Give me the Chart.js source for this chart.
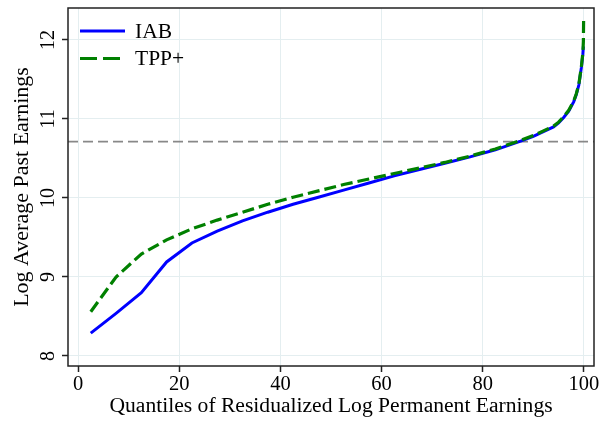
<!DOCTYPE html>
<html>
<head>
<meta charset="utf-8">
<script src="https://cdn.jsdelivr.net/npm/chart.js@4/dist/chart.umd.min.js"></script>
<style>
  html, body { margin: 0; padding: 0; background: #fff; }
  #wrap { width: 610px; height: 421px; }
</style>
</head>
<body>
<div id="wrap"><canvas id="c" width="610" height="421"></canvas></div>
<script>
// ---- data ----
const quantiles = [2.5, 7.5, 12.5, 17.5, 22.5, 27.5, 32.5, 37.5, 42.5, 47.5, 52.5, 57.5, 62.5, 67.5, 72.5, 77.5, 82.5, 87.5, 90, 92, 94, 95, 96, 97, 98, 98.5, 99, 99.5, 99.8, 99.9, 99.95];
const iab = [8.29, 8.54, 8.80, 9.19, 9.43, 9.58, 9.71, 9.82, 9.92, 10.01, 10.10, 10.19, 10.28, 10.36, 10.44, 10.52, 10.61, 10.72, 10.78, 10.84, 10.90, 10.95, 11.02, 11.10, 11.22, 11.31, 11.43, 11.65, 11.82, 11.92, null];
const tpp = [8.56, 9.00, 9.29, 9.47, 9.61, 9.72, 9.82, 9.92, 10.01, 10.09, 10.17, 10.24, 10.31, 10.38, 10.45, 10.53, 10.62, 10.73, 10.79, 10.85, 10.91, 10.96, 11.03, 11.11, 11.23, 11.32, 11.44, 11.66, 11.84, 11.98, 12.27];
const refLevel = 10.713;
const xTicks = [0, 20, 40, 60, 80, 100];
const yTicks = [8, 9, 10, 11, 12];
const seriesNames = ['IAB', 'TPP+'];
const xTitle = 'Quantiles of Residualized Log Permanent Earnings';
const yTitle = 'Log Average Past Earnings';

const SERIF = '"Liberation Serif", "Times New Roman", serif';
const GRID = '#e4eef0';
const DARK = '#222222';

const toPts = (ys) => quantiles.map((q, i) => ({ x: q, y: ys[i] }));

// frame + rotated y tick labels + legend
const decor = {
  id: 'decor',
  afterDraw(chart) {
    const { ctx, chartArea: a, scales } = chart;
    ctx.save();
    // frame
    ctx.strokeStyle = DARK;
    ctx.lineWidth = 1.5;
    ctx.setLineDash([]);
    ctx.strokeRect(a.left, a.top, a.right - a.left, a.bottom - a.top);
    // y tick labels, rotated
    ctx.fillStyle = '#000';
    ctx.font = '20px ' + SERIF;
    ctx.textAlign = 'center';
    ctx.textBaseline = 'alphabetic';
    yTicks.forEach(v => {
      const py = scales.y.getPixelForValue(v);
      ctx.save();
      ctx.translate(54, py);
      ctx.rotate(-Math.PI / 2);
      ctx.fillText(String(v), 0, 0);
      ctx.restore();
    });
    // legend
    const ds = chart.data.datasets;
    const rows = [{ d: ds[1], y: 31, ty: 37.5 }, { d: ds[0], y: 58.5, ty: 65 }];
    rows.forEach(r => {
      ctx.beginPath();
      ctx.strokeStyle = r.d.borderColor;
      ctx.lineWidth = r.d.borderWidth;
      ctx.setLineDash(r.d.legendDash || []);
      ctx.moveTo(80, r.y);
      ctx.lineTo(125, r.y);
      ctx.stroke();
      ctx.setLineDash([]);
      ctx.fillStyle = '#000';
      ctx.font = '21.5px ' + SERIF;
      ctx.textAlign = 'left';
      ctx.fillText(r.d.label, 135, r.ty);
    });
    ctx.restore();
  }
};

new Chart(document.getElementById('c'), {
  type: 'line',
  data: {
    datasets: [
      { label: seriesNames[1], data: toPts(tpp), borderColor: '#008000', borderWidth: 3.2, borderDash: [12, 5], legendDash: [17, 6], pointRadius: 0, tension: 0, order: 0, fill: false },
      { label: seriesNames[0], data: toPts(iab), borderColor: '#0000ff', borderWidth: 3, pointRadius: 0, tension: 0, order: 1, fill: false },
      { label: 'ref', data: [{ x: -2, y: refLevel }, { x: 102, y: refLevel }], borderColor: '#888888', borderWidth: 1.6, borderDash: [10, 5], pointRadius: 0, order: 2, fill: false }
    ]
  },
  options: {
    responsive: false,
    animation: false,
    events: [],
    layout: { padding: { top: 8, right: 16, left: 0, bottom: 0 } },
    plugins: { legend: { display: false }, tooltip: { enabled: false } },
    scales: {
      x: {
        type: 'linear', min: -2, max: 102,
        afterBuildTicks: s => { s.ticks = xTicks.map(v => ({ value: v })); },
        afterFit: s => { s.height = 55; },
        grid: { color: GRID, lineWidth: 1, drawTicks: true, tickLength: 6, tickColor: DARK, tickWidth: 1.5 },
        border: { display: false },
        ticks: { color: '#000', font: { family: SERIF, size: 20.5 }, padding: 0, maxRotation: 0 },
        title: { display: true, text: xTitle, color: '#000', font: { family: SERIF, size: 21.6 }, padding: { top: 0, bottom: 2 } }
      },
      y: {
        type: 'linear', min: 7.873, max: 12.405,
        afterBuildTicks: s => { s.ticks = yTicks.map(v => ({ value: v })); },
        afterFit: s => { s.width = 68; },
        grid: { color: GRID, lineWidth: 1, drawTicks: true, tickLength: 6, tickColor: DARK, tickWidth: 1.5 },
        border: { display: false },
        ticks: { display: false },
        title: { display: true, text: yTitle, color: '#000', font: { family: SERIF, size: 22 }, padding: { top: 9, bottom: 0 } }
      }
    }
  },
  plugins: [decor]
});
</script>
</body>
</html>
